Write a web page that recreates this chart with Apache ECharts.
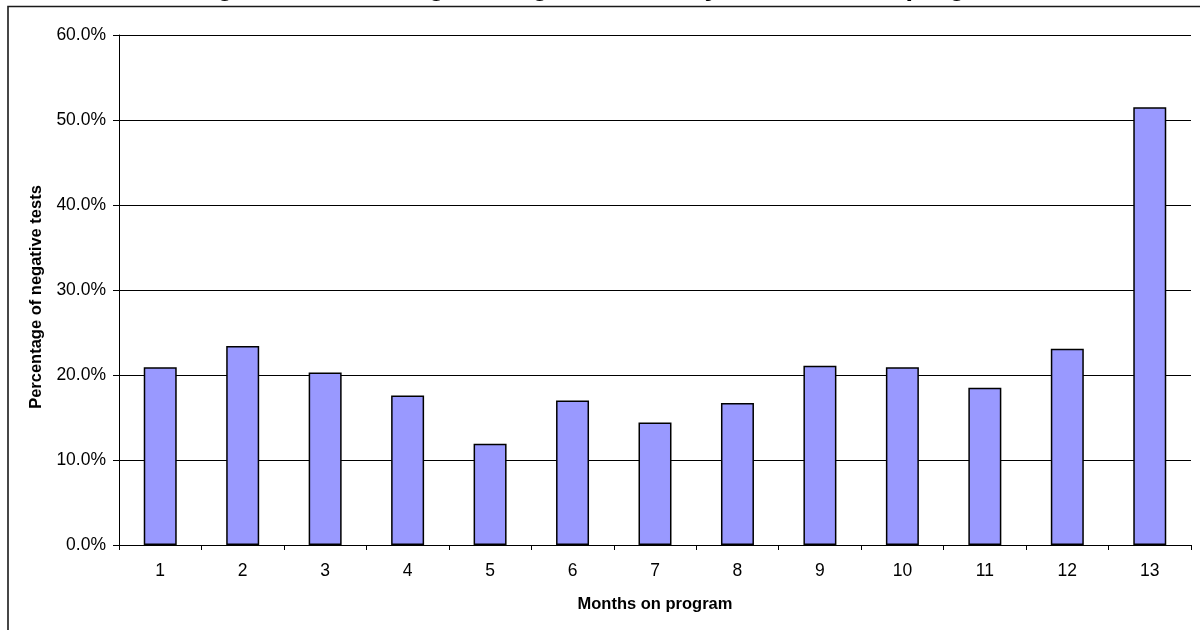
<!DOCTYPE html>
<html>
<head>
<meta charset="utf-8">
<script src="https://cdn.jsdelivr.net/npm/echarts@6/dist/echarts.min.js"></script>
<style>
  html, body { margin: 0; padding: 0; background: #ffffff; }
  #chart { width: 1200px; height: 630px; }
</style>
</head>
<body>
<div id="chart"></div>
<script>
// Chart text
const chartTitle = 'Figure 1: Percentage of negative tests by month on the program';
const xAxisTitle = 'Months on program';
const yAxisTitle = 'Percentage of negative tests';

// Categories: months on the program
const months = ['1', '2', '3', '4', '5', '6', '7', '8', '9', '10', '11', '12', '13'];

// Share of tests that came back negative, in percent
const negativePct = [20.9, 23.4, 20.3, 17.6, 11.9, 17.0, 14.4, 16.7, 21.1, 20.9, 18.5, 23.1, 51.5];

// Value axis ticks (percent)
const pctMin = 0;
const pctMax = 60;
const pctStep = 10;

const FONT = '"Liberation Sans", Arial, Helvetica, sans-serif';

const chart = echarts.init(document.getElementById('chart'), null, { renderer: 'canvas' });

chart.setOption({
  backgroundColor: '#ffffff',
  animation: false,
  textStyle: { fontFamily: FONT, color: '#000' },
  graphic: [
    {
      // chart frame
      type: 'rect',
      silent: true,
      z: -1,
      shape: { x: 8, y: 6.5, width: 1200, height: 640 },
      style: { fill: 'none', stroke: '#1a1a1a', lineWidth: 1.6 }
    },
    {
      // heading, sitting at the very top edge
      type: 'text',
      silent: true,
      x: 604,
      y: -12,
      style: {
        text: chartTitle,
        font: 'bold 27px ' + FONT,
        fill: '#000',
        align: 'center',
        verticalAlign: 'middle',
        textAlign: 'center',
        textVerticalAlign: 'middle'
      }
    }
  ],
  grid: { left: 119, right: 9, top: 35, bottom: 85, containLabel: false },
  xAxis: {
    type: 'category',
    data: months,
    name: xAxisTitle,
    nameLocation: 'middle',
    nameGap: 51,
    nameTextStyle: { fontFamily: FONT, fontWeight: 'bold', fontSize: 16.5, color: '#000' },
    axisLine: { show: true, lineStyle: { color: '#000', width: 1 } },
    axisTick: { show: true, alignWithLabel: false, length: 5, lineStyle: { color: '#000', width: 1 } },
    axisLabel: { fontFamily: FONT, fontSize: 17.5, color: '#000', margin: 17 },
    splitLine: { show: false }
  },
  yAxis: {
    type: 'value',
    min: pctMin,
    max: pctMax,
    interval: pctStep,
    name: yAxisTitle,
    nameLocation: 'middle',
    nameRotate: 90,
    nameGap: 74,
    nameTextStyle: { fontFamily: FONT, fontWeight: 'bold', fontSize: 16.5, color: '#000', padding: [0, 14, 0, 0] },
    axisLine: { show: true, lineStyle: { color: '#000', width: 1 } },
    axisTick: { show: true, length: 6, lineStyle: { color: '#000', width: 1 } },
    axisLabel: {
      fontFamily: FONT,
      fontSize: 17.5,
      color: '#000',
      margin: 13,
      formatter: v => v.toFixed(1) + '%'
    },
    splitLine: { show: true, lineStyle: { color: '#000', width: 1 } }
  },
  series: [
    {
      type: 'bar',
      data: negativePct,
      barWidth: '40%',
      itemStyle: { color: '#9999ff', borderColor: '#000', borderWidth: 1.5 },
      emphasis: { disabled: true }
    }
  ]
});
</script>
</body>
</html>
